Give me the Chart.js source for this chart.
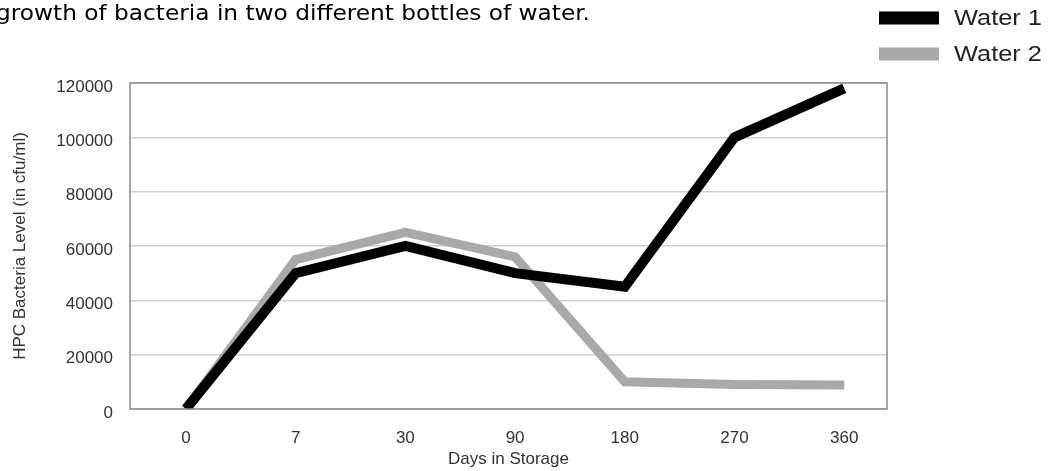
<!DOCTYPE html>
<html>
<head>
<meta charset="utf-8">
<script src="https://cdn.jsdelivr.net/npm/chart.js@4.4.1/dist/chart.umd.min.js"></script>
<style>
  html, body { margin: 0; padding: 0; background: #fff; }
  #wrap { position: relative; width: 1049px; height: 471px; }
</style>
</head>
<body>
<div id="wrap"><canvas id="bacteriaChart"></canvas></div>
<script>
// Datos
const days = ["0", "7", "30", "90", "180", "270", "360"];
const water1 = [0, 50000, 60000, 50000, 45000, 100000, 118000];
const water2 = [0, 55000, 65000, 56000, 10000, 9000, 8800];
const seriesNames = ["Water 1", "Water 2"];
const captionText = "growth of bacteria in two different bottles of water.";

const axisFont = { family: "'Liberation Sans', Arial, sans-serif", size: 17 };

// puntos en posición de índice (eje lineal con etiquetas de días)
const toPoints = (arr) => arr.map((v, i) => ({ x: i, y: v }));

// marco del área y leyenda + texto de arriba
const extras = {
  id: "extras",
  afterDraw(chart) {
    const { ctx, chartArea: a } = chart;
    ctx.save();
    ctx.strokeStyle = "#8a8a8a";
    ctx.lineWidth = 1.5;
    ctx.strokeRect(a.left, a.top, a.right - a.left, a.bottom - a.top);

    // texto cortado a la izquierda
    ctx.fillStyle = "#000";
    ctx.font = "22px 'DejaVu Sans', Verdana, sans-serif";
    ctx.textBaseline = "alphabetic";
    const w = ctx.measureText(captionText).width;
    ctx.save();
    ctx.translate(-4, 20);
    ctx.scale(594 / w, 1);
    ctx.fillText(captionText, 0, 0);
    ctx.restore();

    // leyenda
    ctx.font = "22px 'Liberation Sans', Arial, sans-serif";
    ctx.textBaseline = "middle";
    chart.data.datasets.forEach((ds, i) => {
      const y = 18 + i * 36;
      ctx.fillStyle = ds.borderColor;
      ctx.fillRect(879, y - 6.5, 60, 13);
      ctx.fillStyle = "#222";
      const tw = ctx.measureText(ds.label).width;
      ctx.save();
      ctx.translate(954, y + 1);
      ctx.scale(88 / tw, 1);
      ctx.fillText(ds.label, 0, 0);
      ctx.restore();
    });
    ctx.restore();
  },
};

window.onload = () => {
  const ctx = document.getElementById("bacteriaChart").getContext("2d");
  new Chart(ctx, {
    type: "line",
    data: {
      datasets: [
        {
          label: seriesNames[0],
          data: toPoints(water1),
          borderColor: "#000000",
          borderWidth: 10,
          pointRadius: 0,
          tension: 0,
        },
        {
          label: seriesNames[1],
          data: toPoints(water2),
          borderColor: "#a9a9a9",
          borderWidth: 9,
          pointRadius: 0,
          tension: 0,
        },
      ],
    },
    options: {
      responsive: true,
      maintainAspectRatio: false,
      animation: false,
      layout: { padding: { top: 83, right: 162, left: 0, bottom: 0 } },
      plugins: {
        legend: { display: false },
        tooltip: { enabled: false },
      },
      scales: {
        x: {
          type: "linear",
          min: -0.51,
          max: 6.39,
          afterBuildTicks: (s) => {
            s.ticks = days.map((d, i) => ({ value: i }));
          },
          grid: { display: false, drawTicks: false },
          border: { display: false },
          ticks: {
            color: "#333",
            font: axisFont,
            padding: 19,
            callback: (v) => days[v],
          },
          title: {
            display: true,
            text: "Days in Storage",
            color: "#333",
            font: axisFont,
            padding: { top: 4, bottom: 1 },
          },
          afterFit: (s) => { s.height = 62; },
        },
        y: {
          min: 0,
          max: 120000,
          ticks: {
            stepSize: 20000,
            color: "#333",
            font: axisFont,
            padding: 17,
            labelOffset: 4,
            callback: (v) => String(v),
          },
          grid: { color: "#d0d0d0", lineWidth: 1.5, drawTicks: false },
          border: { display: false },
          title: {
            display: true,
            text: "HPC Bacteria Level (in cfu/ml)",
            color: "#333",
            font: axisFont,
            padding: { top: 10, bottom: 0 },
          },
          afterFit: (s) => { s.width = 130; },
        },
      },
    },
    plugins: [extras],
  });
};
</script>
</body>
</html>
